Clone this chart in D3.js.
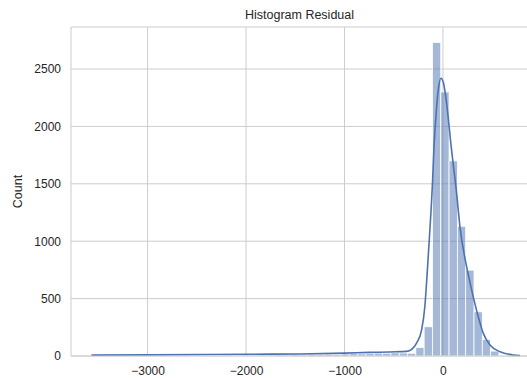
<!DOCTYPE html>
<html>
<head>
  <meta charset="utf-8">
  <title>Histogram Residual</title>
  <script src="https://cdn.jsdelivr.net/npm/d3@7"></script>
  <style>
    body { margin: 0; background: #fff; }
    svg text { font-family: "Liberation Sans", Arial, sans-serif; fill: #262626; }
  </style>
</head>
<body>
<svg id="chart" width="527" height="378"></svg>
<script>
// histogram: 50 equal bins starting at the residual minimum
var binStart = -3567;
var binWidth = 84.4;
var binCounts = [
  5, 3, 4, 3, 4, 4, 5, 4, 6, 5,
  6, 5, 7, 6, 5, 7, 8, 7, 9, 8,
  10, 9, 11, 10, 12, 11, 14, 13, 16, 15,
  18, 20, 19, 22, 25, 24, 28, 26, 24, 75,
  255, 2730, 2300, 1700, 1130, 748, 385, 145, 43, 8
];

// kde line (residual, count)
var kdeX = [-3570, -2980, -1963, -1455, -1000, -743, -539, -437, -369, -315,
  -268, -217, -184, -160, -139, -105, -92, -66, -46, -20,
  5, 31, 88, 139, 173, 241, 292, 359, 410, 478, 580, 712, 783];
var kdeY = [8, 10, 15, 18, 25, 32, 35, 38, 40, 60,
  113, 226, 429, 722, 1009, 1530, 1800, 2150, 2330, 2420,
  2380, 2243, 1791, 1417, 1124, 776, 574, 342, 197, 96, 37, 9, 4];

var xTicks = [-3000, -2000, -1000, 0];
var yTicks = [0, 500, 1000, 1500, 2000, 2500];

var margin = {top: 27, right: -1, bottom: 22, left: 71},
    width = 527 - margin.left - margin.right,
    height = 378 - margin.top - margin.bottom;

var svg = d3.select('#chart');
var g = svg.append('g').attr('transform', 'translate(' + margin.left + ',' + margin.top + ')');

var x = d3.scaleLinear().domain([-3778, 864]).range([0, width]);
var y = d3.scaleLinear().domain([0, 2866]).range([height, 0]);

// grid
g.selectAll('.vgrid').data(xTicks).enter().append('line')
  .attr('x1', d => x(d)).attr('x2', d => x(d))
  .attr('y1', 0).attr('y2', height)
  .attr('stroke', '#cccccc').attr('stroke-width', 1);
g.selectAll('.hgrid').data(yTicks).enter().append('line')
  .attr('x1', 0).attr('x2', width)
  .attr('y1', d => y(d)).attr('y2', d => y(d))
  .attr('stroke', '#cccccc').attr('stroke-width', 1);

// bars
g.selectAll('.bar').data(binCounts).enter().append('rect')
  .attr('x', (d, i) => x(binStart + i * binWidth))
  .attr('width', x(binWidth) - x(0))
  .attr('y', d => y(d))
  .attr('height', d => height - y(d))
  .attr('fill', '#4c72b0').attr('fill-opacity', 0.5)
  .attr('stroke', '#ffffff').attr('stroke-width', 0.8);

// kde
var line = d3.line()
  .x(d => x(d[0])).y(d => y(d[1]))
  .curve(d3.curveMonotoneX);
g.append('path')
  .datum(kdeX.map((v, i) => [v, kdeY[i]]))
  .attr('d', line)
  .attr('fill', 'none').attr('stroke', '#4c72b0').attr('stroke-width', 1.6);

// spines
g.append('line').attr('x1', 0).attr('x2', 0).attr('y1', 0).attr('y2', height).attr('stroke', '#cccccc');
g.append('line').attr('x1', 0).attr('x2', width).attr('y1', height).attr('y2', height).attr('stroke', '#cccccc');
g.append('line').attr('x1', 0).attr('x2', width).attr('y1', 0).attr('y2', 0).attr('stroke', '#cccccc');

// axes
var xAxis = g.append('g').attr('transform', 'translate(0,' + height + ')')
  .call(d3.axisBottom(x).tickValues(xTicks).tickSize(0).tickPadding(10)
    .tickFormat(d => d3.format('d')(d).replace('-', '\u2212')));
var yAxis = g.append('g')
  .call(d3.axisLeft(y).tickValues(yTicks).tickSize(0).tickPadding(10).tickFormat(d3.format('d')));
[xAxis, yAxis].forEach(a => {
  a.select('.domain').remove();
  a.selectAll('text').attr('font-size', 12).style('fill', '#262626')
    .attr('font-family', '"Liberation Sans", Arial, sans-serif');
});

// labels
svg.append('text')
  .attr('x', margin.left + width / 2).attr('y', 19)
  .attr('text-anchor', 'middle').attr('font-size', 12.5)
  .text('Histogram Residual');
svg.append('text')
  .attr('transform', 'translate(22,' + (margin.top + height / 2) + ') rotate(-90)')
  .attr('text-anchor', 'middle').attr('font-size', 12.5)
  .text('Count');
</script>
</body>
</html>
